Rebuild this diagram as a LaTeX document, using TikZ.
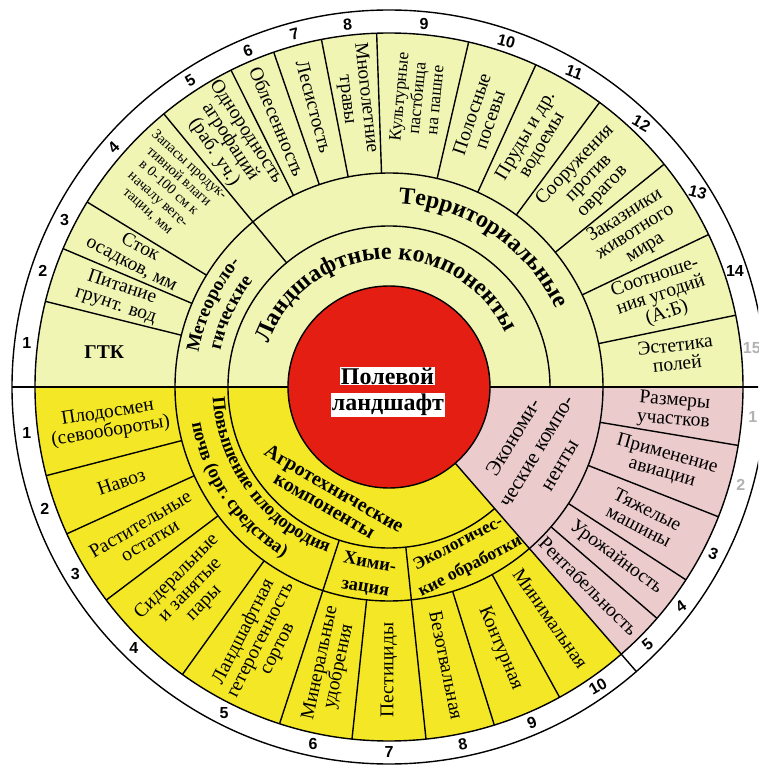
\documentclass[tikz,border=0pt]{standalone}
\usepackage{fontspec}
\setmainfont{Liberation Serif}
\newfontfamily\numfont{Liberation Sans}
\usetikzlibrary{decorations.text}
\definecolor{gr}{RGB}{240,245,180}
\definecolor{ye}{RGB}{244,232,38}
\definecolor{pk}{RGB}{236,203,205}
\definecolor{rd}{RGB}{228,30,18}
\newcommand\fBig{\bfseries\fontsize{24}{24}\selectfont}
\newcommand\fMid{\bfseries\fontsize{19}{19}\selectfont}
\newcommand\fMidb{\bfseries\fontsize{18.5}{18.5}\selectfont}
\tikzset{
  ln/.style={line width=1.4pt},
  celltxt/.style={align=center, inner sep=0pt, font=\fontsize{19.5}{19}\selectfont},
  smalltxt/.style={align=center, inner sep=0pt, font=\fontsize{14.5}{15.5}\selectfont},
  numtxt/.style={inner sep=0pt, font=\numfont\bfseries\fontsize{16}{16}\selectfont},
  fadenum/.style={numtxt, text=black!30},
  arctext/.style={decorate, decoration={text along path, text align=center, text format delimiters={|}{|}, text={#1}}}
}
\begin{document}
\begin{tikzpicture}[x=1pt,y=1pt]
\clip (-389,-384) rectangle (369,387);
\fill[white] (-389,-384) rectangle (369,387);
% sectors
\fill[gr] (0,0) -- (0:354) arc[start angle=0,end angle=180,radius=354] -- cycle;
\fill[ye] (0,0) -- (180:354) arc[start angle=180,end angle=311,radius=354] -- cycle;
\fill[pk] (0,0) -- (311:354) arc[start angle=311,end angle=360,radius=354] -- cycle;
\fill[rd] (0,0) circle[radius=101];
% circles
\draw[ln] (0,0) circle[radius=377];
\draw[ln] (0,0) circle[radius=354];
\draw[ln] (0,0) circle[radius=214];
\draw[ln] (0,0) circle[radius=101];
\draw[ln] (0:161) arc[start angle=0,end angle=311,radius=161];
% main radial lines
\draw[ln] (180:101) -- (180:377);
\draw[ln] (0:101) -- (0:377);
\draw[ln] (311:101) -- (311:377);
\draw[ln] (129.5:161) -- (129.5:354);
\draw[ln] (252:161) -- (252:354);
\draw[ln] (276:161) -- (276:354);
% cell dividers
\foreach \a in {166,157,148.5,116.5,109,101,92,77,65.5,53.5,39,25.5,11.7,
                194.5,204.5,217,234.3,264,287.3,298.8,
                350.5,338.5,327,319.2}
  \draw[ln] (\a:214) -- (\a:354);
% centre
\node[fill=white, inner sep=1pt, font=\fBig] (cA) at (-1.5,11) {Полевой};
\node[fill=white, inner sep=1pt, font=\fBig] (cB) at (-1,-18) {ландшафт};
% arc labels
\path[arctext={|\fBig|Ландшафтные компоненты}] (172.5:128) arc[start angle=172.5,end angle=12.5,radius=128];
\path[arctext={|\fBig|Территориальные}] (116:184) arc[start angle=116,end angle=-4,radius=184];
\path[arctext={|\fMid|Метеороло-}] (200:193.5) arc[start angle=200,end angle=110,radius=193.5];
\path[arctext={|\fMid|гические}] (200:172.5) arc[start angle=200,end angle=110,radius=172.5];
\path[arctext={|\fMidb|Повышение плодородия}] (166.5:176.5) arc[start angle=166.5,end angle=266.5,radius=176.5];
\path[arctext={|\fMidb|почв (орг. средства)}] (164.3:200.5) arc[start angle=164.3,end angle=264.3,radius=200.5];
% straight inner labels
\node[align=center, inner sep=0pt, rotate=-30, font=\bfseries\fontsize{20}{19.5}\selectfont] (agro) at (-59.5,-110) {Агротехнические\\компоненты};
\node[align=center, inner sep=0pt, rotate=-10, font=\bfseries\fontsize{18.5}{25}\selectfont] (him) at (-21.5,-188.5) {Хими-\\зация};
\node[align=center, inner sep=0pt, rotate=27.5, font=\bfseries\fontsize{17.5}{26}\selectfont] (eko) at (75.5,-168.5) {Экологичес-\\кие обработки};
\node[align=center, inner sep=0pt, rotate=59, font=\fontsize{21}{27}\selectfont] (econ) at (147,-64) {Экономи-\\ческие компо-\\ненты};
% top cells
\node[celltxt, font=\bfseries\fontsize{19.5}{19.5}\selectfont] (c1) at (173:287) {ГТК};
\node[celltxt, rotate=-18.5] (c2) at (161.5:285) {Питание\\грунт. вод};
\node[celltxt, rotate=-27.3] (c3) at (152.7:285) {Сток\\осадков, мм};
\node[smalltxt, rotate=-42] (c4) at (138:297) {Запасы продук-\\тивной влаги\\в 0-100 см к\\началу веге-\\тации, мм};
\node[celltxt, rotate=-57] (c5) at (123:292) {Однородность\\агрофаций\\(раб. уч.)};
\node[celltxt, rotate=-67.25] (c6) at (112.75:288) {Облесенность};
\node[celltxt, rotate=-75] (c7) at (105:290) {Лесистость};
\node[celltxt, rotate=-83.5] (c8) at (96.5:290) {Многолетние\\травы};
\node[celltxt, rotate=84.5, font=\fontsize{17.5}{18}\selectfont] (c9) at (84.5:290) {Культурные\\пастбища\\на пашне};
\node[celltxt, rotate=71.25] (c10) at (71.25:285) {Полосные\\посевы};
\node[celltxt, rotate=59.5] (c11) at (59.5:286) {Пруды и др.\\водоемы};
\node[celltxt, rotate=46.25] (c12) at (46.25:289) {Сооружения\\против\\оврагов};
\node[celltxt, rotate=32.25] (c13) at (32.25:291) {Заказники\\животного\\мира};
\node[celltxt, rotate=18.6] (c14) at (18.6:287) {Соотноше-\\ния угодий\\(А:Б)};
\node[celltxt, rotate=6.5] (c15) at (6.5:289) {Эстетика\\полей};
% bottom yellow cells
\node[celltxt, rotate=9] (b1) at (187.25:282) {Плодосмен\\(севообороты)};
\node[celltxt, rotate=19.5] (b2) at (199.5:284) {Навоз};
\node[celltxt, rotate=30.75] (b3) at (210.75:284) {Растительные\\остатки};
\node[celltxt, rotate=45.65] (b4) at (225.65:284) {Сидеральные\\и занятые\\пары};
\node[celltxt, rotate=63.15] (b5) at (243.15:284) {Ландшафтная\\гетерогенность\\сортов};
\node[celltxt, rotate=78] (b6) at (258:284) {Минеральные\\удобрения};
\node[celltxt, rotate=90] (b7) at (270:283) {Пестициды};
\node[celltxt, rotate=-78.35] (b8) at (281.65:284) {Безотвальная};
\node[celltxt, rotate=-66.95] (b9) at (293.05:284) {Контурная};
\node[celltxt, rotate=-55.1] (b10) at (304.9:282) {Минимальная};
% pink cells
\node[celltxt, rotate=-4.75] (p1) at (-4.75:286) {Размеры\\участков};
\node[celltxt, rotate=-15.5] (p2) at (-15.5:286) {Применение\\авиации};
\node[celltxt, rotate=-27.25] (p3) at (-27.25:286) {Тяжелые\\машины};
\node[celltxt, rotate=-36.9] (p4) at (-36.9:284) {Урожайность};
\node[celltxt, rotate=-44.9] (p5) at (-44.9:282) {Рентабельность};
% numbers
\foreach \a/\t/\r [count=\i] in {173/1/0,161.5/2/0,152.75/3/0,139/4/45,123/5/30,112.75/6/20,105/7/15,96.5/8/5,84.5/9/0,71.25/10/-15,59.5/11/-20,46.25/12/-30,32.25/13/-15,18.6/14/0}
  \node[numtxt, rotate=\r] (nt\i) at (\a:365) {\t};
\node[fadenum] (nt15) at (6.2:365) {15};
\foreach \a/\t/\r [count=\i] in {187.25/1/0,199.5/2/0,210.75/3/0,225.65/4/0,243.15/5/0,258/6/0,270/7/0,281.65/8/10,293.05/9/20,304.9/10/30}
  \node[numtxt, rotate=\r] (nb\i) at (\a:365) {\t};
\node[fadenum] (np1) at (-4.75:365) {1};
\node[fadenum] (np2) at (-15.5:365) {2};
\node[numtxt, rotate=-20] (np3) at (-27.25:365) {3};
\node[numtxt, rotate=35] (np4) at (-36.9:365) {4};
\node[numtxt, rotate=40] (np5) at (-44.9:365) {5};
\end{tikzpicture}
\end{document}
